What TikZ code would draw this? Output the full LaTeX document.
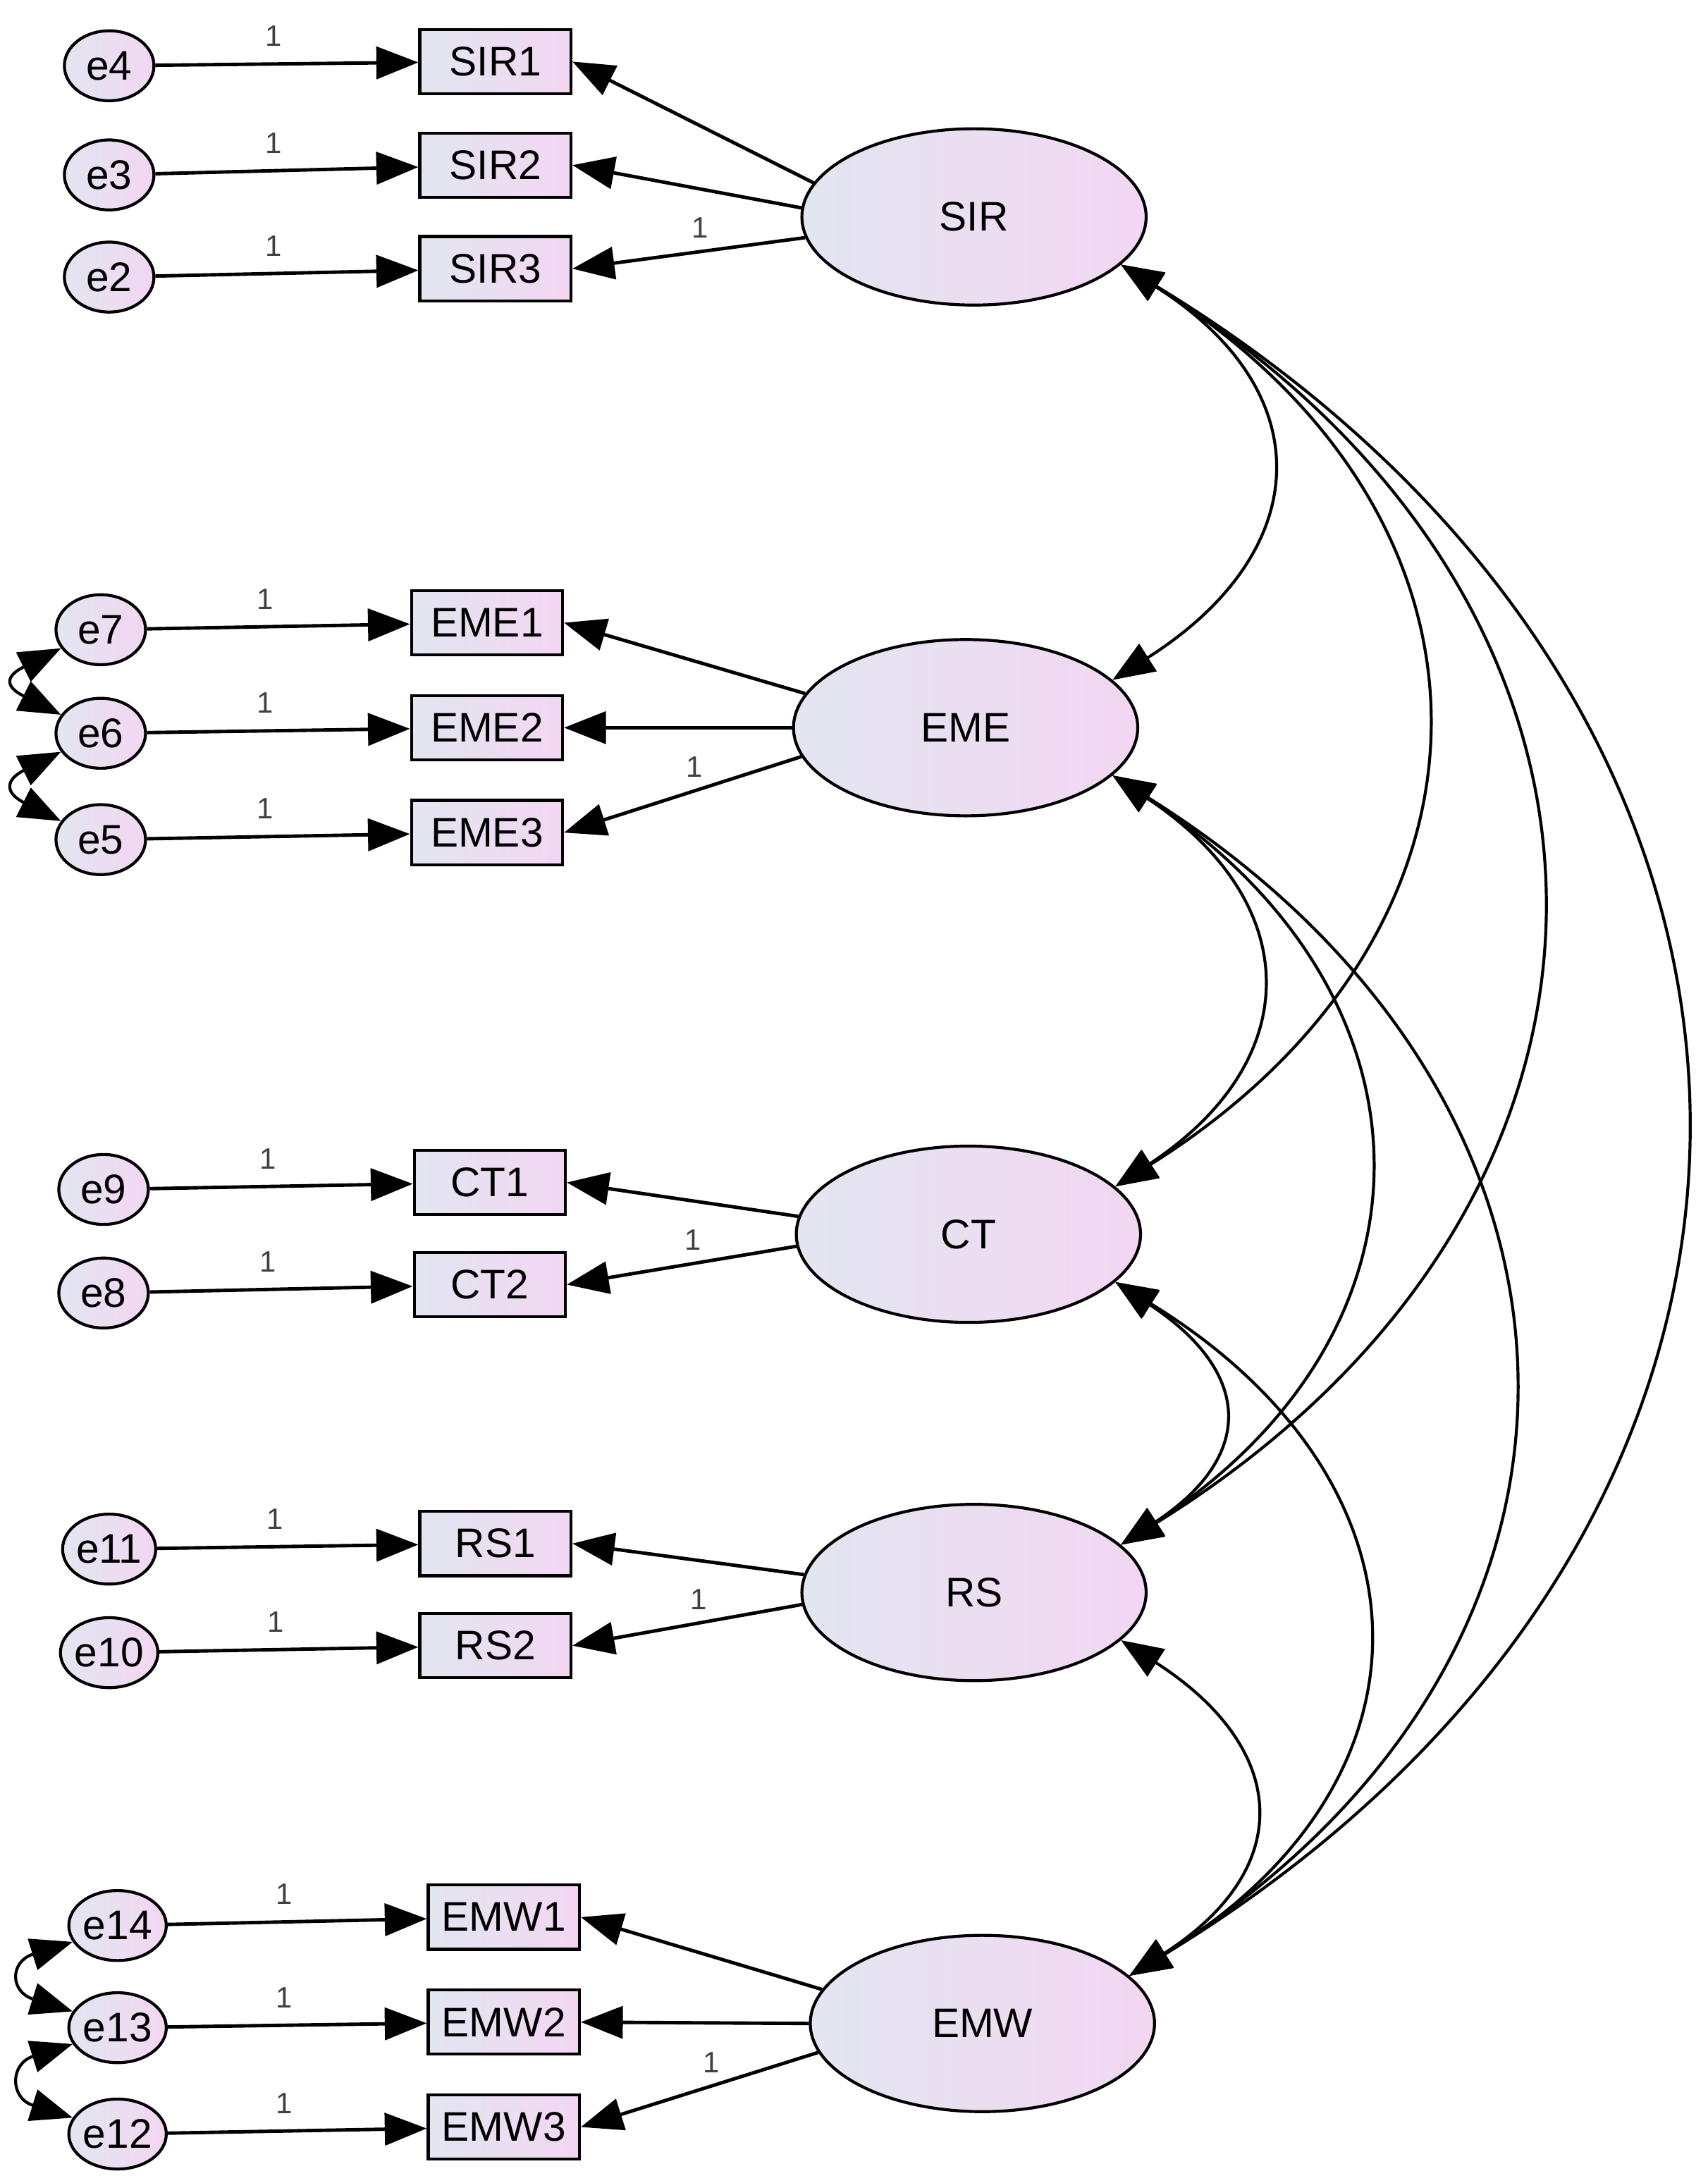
\documentclass[tikz,border=0pt]{standalone}
\usepackage{fontspec}
\setmainfont{Liberation Sans}
\usetikzlibrary{shapes.geometric,arrows.meta}
\definecolor{lft}{RGB}{226,230,240}
\definecolor{rgt}{RGB}{243,214,243}
\begin{document}
\begin{tikzpicture}[x=0.05cm,y=-0.05cm,
 base/.style={draw=black,line width=3pt,left color=lft,right color=rgt,font=\fontsize{42}{50}\selectfont,inner sep=0pt},
 err/.style={base,ellipse,minimum width=3.2cm,minimum height=2.5cm},
 obs/.style={base,rectangle,minimum width=5.4cm,minimum height=2.3cm},
 lat/.style={base,ellipse,minimum width=12.3cm,minimum height=6.3cm},
 arr/.style={line width=3.5pt,-{Triangle[length=1.5cm,width=1.15cm]}},
 cov/.style={line width=3pt,{Triangle[length=1.5cm,width=1.15cm]}-{Triangle[length=1.5cm,width=1.15cm]}},
 one/.style={font=\fontsize{30}{34}\selectfont,text=black!75}]
\useasboundingbox (0,0) rectangle (1220,1560);
\foreach \n/\x/\y in {e4/78/47,e3/78/125,e2/78/198,e7/72/450,e6/72/524,e5/72/600,e9/74/850,e8/74/924,e11/78/1107,e10/78/1181,e14/84/1376,e13/84/1449,e12/84/1525}
  \node[err] (\n) at (\x,\y) {\n};
\foreach \n/\x/\y in {SIR1/354/44,SIR2/354/118,SIR3/354/192,EME1/348/445,EME2/348/520,EME3/348/595,CT1/350/845,CT2/350/918,RS1/354/1103,RS2/354/1176,EMW1/360/1370,EMW2/360/1445,EMW3/360/1520}
  \node[obs] (\n) at (\x,\y) {\n};
\foreach \n/\x/\y in {SIR/696/155,EME/690/520,CT/692/882,RS/696/1138,EMW/702/1446}
  \node[lat] (\n) at (\x,\y) {\n};
\foreach \e/\o in {e4/SIR1,e3/SIR2,e2/SIR3,e7/EME1,e6/EME2,e5/EME3,e9/CT1,e8/CT2,e11/RS1,e10/RS2,e14/EMW1,e13/EMW2,e12/EMW3}
  \draw[arr] (\e) -- node[one,above=0.45cm,pos=0.45]{1} (\o);
\draw[arr] (SIR.168) -- (SIR1.east);
\draw[arr] (SIR.177) -- (SIR2.east);
\draw[arr] (SIR.187) -- node[one,above=0.3cm,pos=0.45]{1} (SIR3.east);
\draw[arr] (EME.168) -- (EME1.east);
\draw[arr] (EME.180) -- (EME2.east);
\draw[arr] (EME.190) -- node[one,above=0.3cm,pos=0.45]{1} (EME3.east);
\draw[arr] (CT.174) -- (CT1.east);
\draw[arr] (CT.184) -- node[one,above=0.3cm,pos=0.45]{1} (CT2.east);
\draw[arr] (RS.174) -- (RS1.east);
\draw[arr] (RS.184) -- node[one,above=0.3cm,pos=0.45]{1} (RS2.east);
\draw[arr] (EMW.168) -- (EMW1.east);
\draw[arr] (EMW.180) -- (EMW2.east);
\draw[arr] (EMW.190) -- node[one,above=0.3cm,pos=0.45]{1} (EMW3.east);
\foreach \a/\b/\dx/\L in {SIR/EME/144/365,SIR/CT/290/727,SIR/RS/397/983,SIR/EMW/530/1290,EME/CT/137/362,EME/RS/237/618,EME/EMW/370/926,CT/RS/97/256,CT/EMW/230/564,RS/EMW/120/308}
  \draw[cov] (\a.-18) .. controls +(\dx,0.25*\L) and +(\dx,-0.25*\L) .. (\b.18);
\draw[cov] (e7.205) .. controls +(-40,20) and +(-40,-20) .. (e6.155);
\draw[cov] (e6.205) .. controls +(-40,20) and +(-40,-20) .. (e5.155);
\draw[cov] (e14.200) .. controls +(-45,14) and +(-45,-14) .. (e13.160);
\draw[cov] (e13.200) .. controls +(-45,14) and +(-45,-14) .. (e12.160);
\end{tikzpicture}
\end{document}
